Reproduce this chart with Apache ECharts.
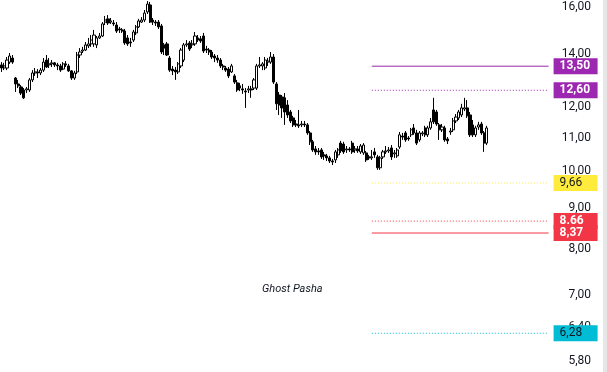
<!DOCTYPE html>
<html>
<head>
<meta charset="utf-8">
<script src="https://cdn.jsdelivr.net/npm/echarts@6/dist/echarts.min.js"></script>
<style>
html,body{margin:0;padding:0;background:#fff;}
#chart{width:607px;height:372px;}
</style>
</head>
<body>
<div id="chart"></div>
<script>
// ---- data ----
const categories = Array.from({length: 196}, (_, i) => String(i + 1));
// [open, close, low, high]
const candles = [
[13.55,13.43,13.28,13.66],[13.43,13.51,13.35,13.63],[13.43,13.74,13.35,13.86],[13.66,13.90,13.59,14.02],[13.82,13.66,13.59,13.94],
[13.05,12.83,12.54,13.09],[12.83,12.76,12.68,12.98],[12.72,12.50,12.43,12.79],[12.61,12.33,12.29,12.68],[12.61,12.65,12.50,12.72],
[12.61,12.98,12.54,13.05],[12.98,13.24,12.90,13.35],[13.24,13.28,13.13,13.43],[13.28,13.24,13.05,13.39],[13.24,13.35,13.16,13.43],
[13.35,13.66,13.28,13.82],[13.74,13.47,13.43,13.94],[13.55,13.59,13.43,13.82],[13.59,13.63,13.47,13.74],[13.63,13.55,13.47,13.66],
[13.55,13.51,13.35,13.63],[13.51,13.35,13.28,13.59],[13.39,13.59,13.35,13.66],[13.59,13.55,13.47,13.70],[13.51,13.32,13.28,13.59],
[13.32,13.05,12.98,13.35],[13.05,13.24,12.98,13.32],[13.28,13.94,13.20,14.06],[13.94,14.06,13.82,14.22],[14.10,14.14,14.02,14.27],
[14.14,14.35,14.10,14.47],[14.31,14.39,14.22,14.64],[14.39,14.55,14.27,14.76],[14.39,14.76,14.27,14.98],[14.35,14.64,14.22,14.72],
[14.64,14.72,14.60,14.85],[14.72,15.24,14.68,15.32],[15.32,15.41,15.19,15.59],[15.46,15.28,15.19,15.63],[15.32,15.37,15.24,15.50],
[15.28,15.24,15.15,15.41],[15.19,14.93,14.85,15.32],[15.02,14.98,14.85,15.11],[14.98,14.93,14.85,15.06],[14.93,14.43,14.35,15.02],
[14.64,14.39,14.31,14.76],[14.47,14.43,14.27,14.64],[14.55,14.89,14.47,14.98],[14.85,15.11,14.76,15.19],[15.11,15.37,15.06,15.46],
[15.32,15.41,15.28,15.54],[15.41,15.72,15.32,15.86],[15.77,16.13,15.68,16.27],[16.09,15.32,15.28,16.23],[15.41,15.32,15.19,15.50],
[15.32,15.28,15.15,15.41],[15.32,15.11,15.02,15.41],[15.15,14.06,13.98,15.24],[14.35,14.22,13.94,14.43],[14.39,13.94,13.90,14.47],
[13.82,13.35,13.28,13.90],[13.39,13.32,13.16,13.51],[13.35,13.28,12.98,13.47],[13.28,13.59,13.20,13.66],[13.51,14.14,13.43,14.22],
[13.74,14.35,13.66,14.43],[14.35,14.39,14.27,14.55],[14.43,14.18,14.10,14.51],[14.35,14.39,14.22,14.55],[14.39,14.72,14.31,14.89],
[14.64,14.55,14.47,14.76],[14.60,14.51,14.43,14.72],[14.72,14.10,14.02,14.85],[14.18,14.14,14.02,14.31],[14.14,14.06,13.94,14.22],
[14.06,13.86,13.78,14.14],[13.90,13.82,13.66,13.98],[13.82,13.74,13.63,13.94],[13.74,13.51,13.43,13.82],[13.51,13.47,13.35,13.59],
[13.43,13.35,13.28,13.51],[13.39,13.13,13.05,13.47],[13.28,13.51,13.24,13.59],[13.13,12.90,12.83,13.20],[12.87,12.61,12.54,12.98],
[12.76,12.68,12.57,12.87],[12.65,12.61,12.47,12.83],[12.57,12.54,11.98,12.68],[12.61,12.65,12.50,12.76],[12.65,12.61,12.33,12.76],
[12.68,12.98,12.61,13.05],[12.68,13.51,12.61,13.59],[13.51,13.55,13.43,13.86],[13.51,13.59,13.35,13.66],[13.43,13.74,13.35,13.86],
[13.66,13.70,13.51,13.82],[13.66,13.86,13.59,14.06],[13.86,12.90,12.83,13.98],[12.83,12.12,11.91,12.90],[12.43,12.08,11.74,12.54],
[12.36,11.98,11.64,12.43],[12.33,11.84,11.41,12.50],[12.08,11.74,11.64,12.25],[11.84,11.54,11.47,11.91],[11.64,11.41,11.34,11.71],
[11.44,11.41,11.34,11.57],[11.41,11.38,11.31,11.91],[11.41,11.44,11.34,11.54],[11.44,11.41,11.34,11.54],[11.41,11.15,11.09,11.47],
[11.15,10.87,10.77,11.21],[10.87,10.62,10.56,10.93],[10.65,10.56,10.47,10.74],[10.59,10.56,10.47,10.68],[10.62,10.41,10.35,10.68],
[10.47,10.44,10.32,10.56],[10.44,10.38,10.29,10.50],[10.38,10.29,10.23,10.44],[10.29,10.26,10.17,10.35],[10.32,10.56,10.23,10.62],
[10.47,10.62,10.38,10.68],[10.83,10.59,10.53,10.90],[10.80,10.56,10.50,10.87],[10.62,10.65,10.53,10.74],[10.65,10.62,10.56,10.71],
[10.83,10.56,10.50,10.90],[10.62,10.65,10.53,10.74],[10.65,10.59,10.53,10.74],[10.56,10.74,10.50,10.80],[10.53,10.77,10.47,10.83],
[10.53,10.32,10.26,10.59],[10.41,10.38,10.32,10.47],[10.38,10.41,10.32,10.62],[10.56,10.47,10.38,10.68],[10.41,10.09,10.03,10.47],
[10.09,10.38,10.03,10.44],[10.41,10.56,10.35,10.62],[10.56,10.59,10.50,10.74],[10.59,10.62,10.53,10.71],[10.68,10.41,10.32,10.77],
[10.50,10.53,10.38,10.62],[10.44,10.62,10.38,10.68],[10.71,11.09,10.65,11.18],[11.05,11.02,10.93,11.15],[11.15,10.93,10.87,11.21],
[10.99,10.96,10.90,11.05],[11.09,11.25,11.02,11.31],[11.31,11.15,11.09,11.44],[11.15,10.83,10.77,11.25],[10.93,11.15,10.87,11.21],
[11.12,11.15,11.05,11.21],[11.31,11.09,11.02,11.38],[11.09,11.31,11.02,11.38],[11.31,11.51,11.25,11.64],[11.91,11.51,11.44,12.33],
[11.84,11.44,11.38,11.91],[11.41,11.25,10.93,11.47],[11.25,11.34,11.18,11.44],[11.31,10.93,10.87,11.38],[10.96,10.90,10.80,11.02],
[11.18,11.21,11.09,11.31],[11.25,11.54,11.18,11.64],[11.54,11.67,11.47,11.77],[11.64,11.84,11.57,11.91],[11.74,11.98,11.67,12.12],
[11.94,11.98,11.87,12.33],[11.98,11.71,11.64,12.25],[11.74,11.09,11.02,11.84],[11.41,11.09,11.02,11.57],[11.09,11.31,11.02,11.38],
[11.34,11.41,11.25,11.51],[11.44,11.15,11.09,11.51],[11.15,10.83,10.56,11.21],[10.83,11.31,10.77,11.38]
];
const yTicks = [16, 14, 12, 11, 10, 9, 8, 7, 6.4, 5.8];
const levelValues = [13.5, 12.6, 9.66, 8.66, 8.37, 6.28];
const levelLabels = ['13,50', '12,60', '9,66', '8.66', '8,37', '6,28'];
const levelColors = ['#9c27b0', '#9c27b0', '#ffeb3b', '#f23645', '#f23645', '#00bcd4'];
const levelTextColors = ['#ffffff', '#ffffff', '#131722', '#ffffff', '#ffffff', '#131722'];
const levelDotted = [false, true, true, true, false, true];
const levelStartIndex = 132;
const watermark = 'Ghost Pasha';

// ---- chart ----
const chart = echarts.init(document.getElementById('chart'), null, {renderer: 'canvas'});
const lastCat = categories[categories.length - 1];
const levelSeries = levelValues.map((v, i) => ({
  type: 'line',
  silent: true,
  showSymbol: false,
  symbol: 'none',
  z: 3,
  color: levelColors[i],
  lineStyle: {color: levelColors[i], width: 1, type: levelDotted[i] ? [1, 2] : 'solid'},
  emphasis: {disabled: true},
  data: [[categories[levelStartIndex], v], [lastCat, v]],
  endLabel: {
    show: true, distance: 5,
    formatter: levelLabels[i],
    backgroundColor: levelColors[i], color: levelTextColors[i],
    fontFamily: 'Roboto', fontSize: 12,
    fontWeight: levelTextColors[i] === '#ffffff' ? 'bold' : 'normal',
    padding: [2, 6, 1, 6], lineHeight: 13, width: 32, align: 'left'
  }
}));

chart.setOption({
  animation: false,
  backgroundColor: '#ffffff',
  grid: {left: 0, right: 57, top: 0, bottom: 0, containLabel: false},
  xAxis: {
    type: 'category', data: categories, show: false, boundaryGap: true
  },
  yAxis: {
    type: 'log', logBase: 10, position: 'right',
    min: 5.62, max: 16.32,
    splitLine: {show: false}, axisLine: {show: false}, axisTick: {show: false},
    axisLabel: {
      customValues: yTicks,
      align: 'right', margin: 41,
      color: '#131722', fontFamily: 'Roboto', fontSize: 12,
      formatter: v => Number(v).toFixed(2).replace('.', ',')
    }
  },
  graphic: [
    {type: 'text', left: 262, top: 284, style: {text: watermark, font: 'italic 11px Roboto', fill: '#131722'}},
    {type: 'rect', shape: {x: 603, y: 0, width: 4, height: 372}, style: {fill: '#e6e6e6'}}
  ],
  series: [{
    type: 'candlestick',
    data: candles,
    barWidth: 2.6,
    itemStyle: {
      color: '#ffffff', color0: '#000000',
      borderColor: '#000000', borderColor0: '#000000', borderWidth: 1
    }
  }].concat(levelSeries)
});
</script>
</body>
</html>
